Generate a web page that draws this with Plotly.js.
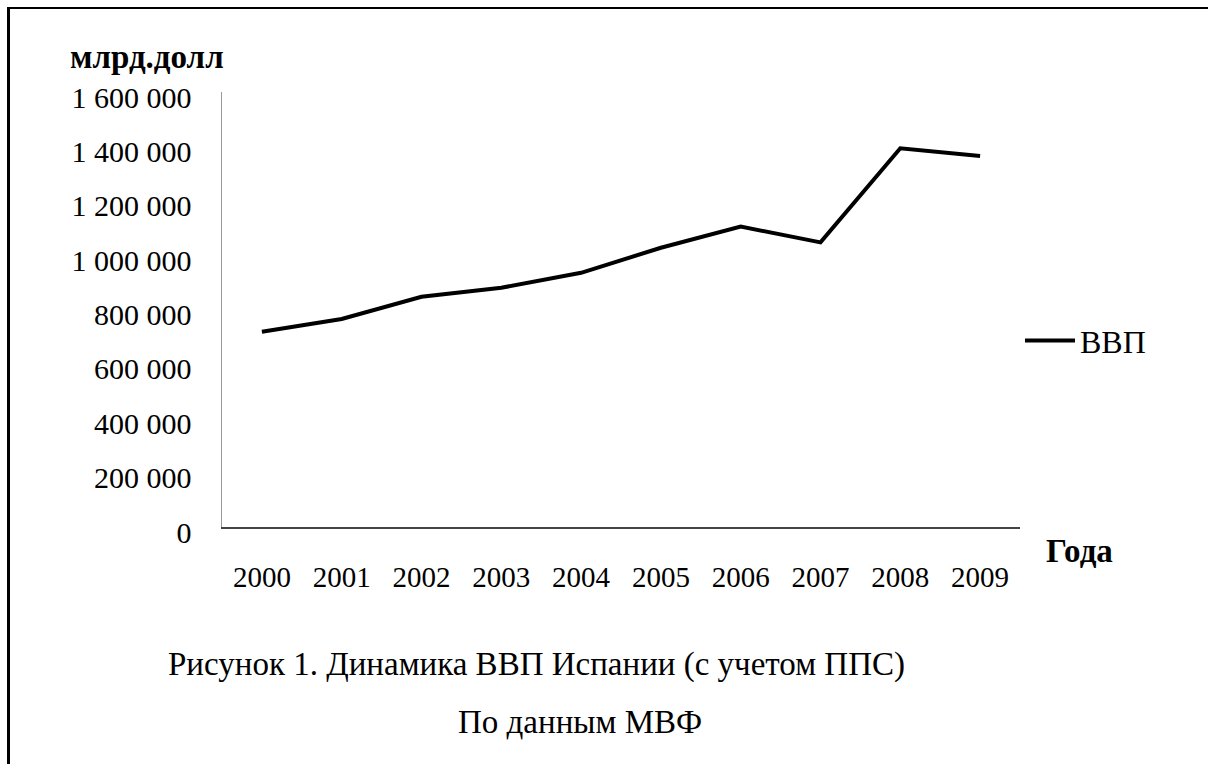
<!DOCTYPE html>
<html>
<head>
<meta charset="utf-8">
<script src="https://cdn.plot.ly/plotly-3.0.1.min.js"></script>
<style>
  html, body { margin: 0; padding: 0; background: #fff; overflow: hidden; }
  #wrap { position: relative; width: 1208px; height: 764px; overflow: hidden; }
  #chart { position: absolute; left: 0; top: 0; width: 1208px; height: 764px; }
  #topline { position: absolute; left: 7px; top: 7px; width: 1201px; height: 2px; background: #000; pointer-events: none; }
  #leftline { position: absolute; left: 7px; top: 7px; width: 3px; height: 757px; background: #000; pointer-events: none; }
</style>
</head>
<body>
<div id="wrap">
  <div id="chart"></div>
  <div id="topline"></div>
  <div id="leftline"></div>
</div>
<script>
const years = ["2000", "2001", "2002", "2003", "2004", "2005", "2006", "2007", "2008", "2009"];
const gdp = [718000, 765000, 847000, 880000, 935000, 1027000, 1105000, 1047000, 1393000, 1365000];
const seriesName = "ВВП";
const yTitle = "млрд.долл";
const xTitle = "Года";
const caption1 = "Рисунок 1. Динамика ВВП Испании (с учетом ППС)";
const caption2 = "По данным МВФ";

const serif = "Liberation Serif, Times New Roman, serif";

const trace = {
  x: years,
  y: gdp,
  type: "scatter",
  mode: "lines",
  name: seriesName,
  line: { color: "#000000", width: 4 }
};

const layout = {
  width: 1208,
  height: 764,
  margin: { l: 222, r: 188, t: 92, b: 237 },
  paper_bgcolor: "rgba(0,0,0,0)",
  plot_bgcolor: "rgba(0,0,0,0)",
  separators: ", ",
  font: { family: serif, color: "#000", size: 29 },
  showlegend: true,
  legend: {
    x: 1.0, xanchor: "left", y: 0.428, yanchor: "middle",
    font: { family: serif, size: 32, color: "#000" },
    bgcolor: "rgba(0,0,0,0)", itemwidth: 50
  },
  xaxis: {
    type: "category",
    range: [-0.5, 9.5],
    showgrid: false, zeroline: false,
    showline: true, linecolor: "#444", linewidth: 2,
    ticks: "",
    ticklabelstandoff: 23,
    tickfont: { family: serif, size: 29, color: "#000" }
  },
  yaxis: {
    range: [0, 1600000],
    dtick: 200000,
    tickformat: ",d",
    showgrid: false, zeroline: false,
    showline: true, linecolor: "#999", linewidth: 1.5,
    ticks: "",
    ticklabelstandoff: 23,
    ticklabelshift: 5,
    tickfont: { family: serif, size: 30, color: "#000" }
  },
  annotations: [
    { text: "<b>" + yTitle + "</b>", xref: "paper", yref: "paper", x: -0.094, y: 1.08,
      xanchor: "center", yanchor: "middle", showarrow: false, font: { family: serif, size: 33, color: "#000" } },
    { text: "<b>" + xTitle + "</b>", xref: "paper", yref: "paper", x: 1.075, y: -0.055,
      xanchor: "center", yanchor: "middle", showarrow: false, font: { family: serif, size: 33, color: "#000" } },
    { text: caption1, xref: "paper", yref: "paper", x: 0.394, y: -0.315,
      xanchor: "center", yanchor: "middle", showarrow: false, font: { family: serif, size: 33, color: "#000" } },
    { text: caption2, xref: "paper", yref: "paper", x: 0.448, y: -0.448,
      xanchor: "center", yanchor: "middle", showarrow: false, font: { family: serif, size: 33, color: "#000" } }
  ]
};

Plotly.newPlot("chart", [trace], layout, { displayModeBar: false, staticPlot: true });
</script>
</body>
</html>
